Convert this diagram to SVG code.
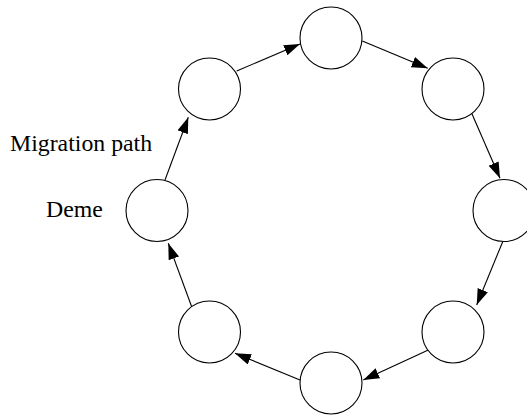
<svg xmlns="http://www.w3.org/2000/svg" width="527" height="415" viewBox="0 0 527 415">
<style>
.deme{fill:#fff;stroke:#000;stroke-width:1.1}
.edge{stroke:#000;stroke-width:1.1;fill:none;marker-end:url(#ah)}
.lbl{font-family:"Liberation Serif","Times New Roman",serif;font-size:23.8px;fill:#000}
</style>
<defs>
<marker id="ah" markerUnits="userSpaceOnUse" markerWidth="18" markerHeight="12" refX="16" refY="5.5" orient="auto">
<path d="M0,0 L16,5.5 L0,11 z" fill="#000"/>
</marker>
</defs>
<rect width="527" height="415" fill="#fff"/>
<g id="connectors">
<line class="edge" x1="165" y1="180" x2="188.3" y2="117.3"/>
<line class="edge" x1="236.7" y1="71" x2="300" y2="44"/>
<line class="edge" x1="362.3" y1="41" x2="427.7" y2="68.3"/>
<line class="edge" x1="471.7" y1="113.3" x2="500" y2="178.3"/>
<line class="edge" x1="502.7" y1="241.7" x2="476.7" y2="305"/>
<line class="edge" x1="428.3" y1="350" x2="363.3" y2="380"/>
<line class="edge" x1="300" y1="380" x2="235" y2="353.3"/>
<line class="edge" x1="191.7" y1="306.7" x2="168.3" y2="243.3"/>
</g>
<g id="deme-top"><circle class="deme" cx="331" cy="38" r="31"/></g>
<g id="deme-upper-right"><circle class="deme" cx="453" cy="89" r="31"/></g>
<g id="deme-right"><circle class="deme" cx="504" cy="210.5" r="31"/></g>
<g id="deme-lower-right"><circle class="deme" cx="453" cy="332" r="31"/></g>
<g id="deme-bottom"><circle class="deme" cx="331" cy="383" r="31"/></g>
<g id="deme-lower-left"><circle class="deme" cx="209.5" cy="332" r="31"/></g>
<g id="deme-left"><circle class="deme" cx="157" cy="210.5" r="31"/></g>
<g id="deme-upper-left"><circle class="deme" cx="209.5" cy="89" r="31"/></g>
<g id="labels">
<text class="lbl" x="10" y="150.7">Migration path</text>
<text class="lbl" x="46" y="216.7">Deme</text>
</g>
</svg>
